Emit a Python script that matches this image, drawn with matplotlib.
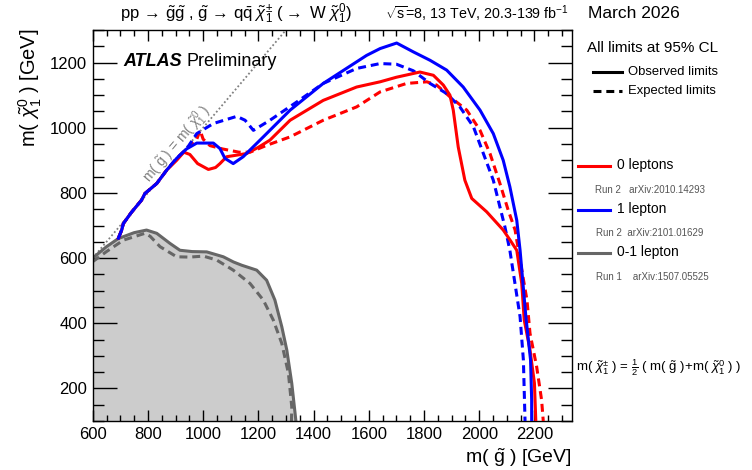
import matplotlib
matplotlib.use("Agg")
import matplotlib.pyplot as plt
from matplotlib.lines import Line2D
from matplotlib.ticker import MultipleLocator

plt.rcParams['font.family'] = ['Liberation Sans', 'DejaVu Sans']
plt.rcParams['mathtext.fontset'] = 'custom'
plt.rcParams['mathtext.rm'] = 'Liberation Sans'
plt.rcParams['mathtext.it'] = 'Liberation Sans:italic'
plt.rcParams['mathtext.bf'] = 'Liberation Sans:bold'
plt.rcParams['mathtext.sf'] = 'Liberation Sans'

# ---------------- data ----------------
diag_x = [600, 1300]
diag_y = [600, 1300]

grey_obs_x = [600, 650, 693, 750, 795, 832, 880, 916, 960, 1013, 1073, 1110, 1140, 1194, 1230, 1260, 1285, 1303, 1321, 1333, 1336]
grey_obs_y = [600, 635, 660, 678, 686, 676, 645, 624, 620, 619, 604, 588, 578, 563, 532, 471, 389, 318, 216, 124, 100]

grey_exp_x = [600, 650, 711, 789, 808, 844, 904, 950, 1001, 1049, 1109, 1170, 1218, 1254, 1285, 1309, 1321, 1320]
grey_exp_y = [589, 620, 655, 676, 667, 635, 604, 603, 606, 594, 563, 522, 471, 410, 338, 246, 144, 100]

red_obs_x = [693, 705, 711, 740, 777, 789, 832, 868, 904, 930, 952, 980, 1019, 1045, 1061, 1085, 1122, 1158, 1200, 1242,
             1315, 1435, 1556, 1641, 1700, 1785, 1834, 1870, 1894, 1906, 1924, 1948, 1973, 2027, 2087, 2112, 2136, 2154,
             2163, 2184, 2200, 2205]
red_obs_y = [661, 686, 706, 740, 778, 798, 829, 870, 900, 925, 918, 890, 872, 878, 890, 911, 916, 921, 940, 962,
             1023, 1084, 1125, 1141, 1155, 1171, 1161, 1131, 1100, 1054, 941, 839, 783, 742, 686, 655, 624, 522,
             410, 318, 216, 100]

red_exp_x = [693, 705, 711, 740, 777, 789, 832, 868, 904, 940, 977, 989, 1000, 1025, 1070, 1130, 1170, 1230, 1315, 1435,
             1556, 1641, 1737, 1810, 1846, 1894, 1955, 2003, 2039, 2075, 2105, 2130, 2148, 2173, 2184, 2208, 2226, 2232]
red_exp_y = [661, 686, 706, 740, 778, 798, 829, 870, 906, 935, 965, 992, 965, 945, 935, 925, 925, 946, 972, 1023,
             1064, 1110, 1136, 1141, 1131, 1095, 1054, 992, 921, 829, 747, 686, 594, 471, 369, 267, 164, 100]

blue_obs_x = [693, 705, 711, 740, 777, 789, 832, 868, 904, 940, 977, 1037, 1061, 1079, 1109, 1145, 1218, 1315, 1435,
              1592, 1641, 1701, 1761, 1822, 1882, 1942, 2003, 2051, 2087, 2111, 2136, 2148, 2169, 2186, 2190, 2190]
blue_obs_y = [661, 686, 706, 740, 778, 798, 829, 870, 906, 935, 953, 953, 936, 906, 890, 911, 972, 1054, 1136,
              1222, 1243, 1260, 1233, 1207, 1177, 1125, 1054, 982, 900, 819, 716, 624, 420, 287, 164, 100]

blue_exp_x = [693, 705, 711, 740, 777, 789, 832, 868, 904, 940, 977, 1037, 1122, 1152, 1182, 1242, 1339, 1435, 1556,
              1641, 1700, 1761, 1822, 1882, 1930, 1979, 2015, 2051, 2075, 2093, 2111, 2148, 2160, 2166]
blue_exp_y = [661, 686, 706, 740, 778, 798, 829, 870, 906, 935, 982, 1013, 1035, 1023, 992, 1023, 1079, 1136, 1182,
              1197, 1195, 1175, 1136, 1105, 1064, 1003, 921, 839, 757, 696, 624, 420, 287, 100]

RED = '#ff0000'
BLUE = '#0000ff'
GREY = '#666666'
FILL = '#cccccc'
DASH = (2.6, 1.6)
LW = 2.2

W, H = 752, 470
fig = plt.figure(figsize=(W / 100, H / 100), dpi=100)
ax = fig.add_axes([92.7 / W, 1 - 421 / H, (571.7 - 92.7) / W, (421 - 30) / H])
ax.set_xlim(600, 2335)
ax.set_ylim(100, 1300)

# grey region (Run 1)
ax.fill(grey_obs_x + [600], grey_obs_y + [100], color=FILL, lw=0, zorder=1)
ax.plot(grey_exp_x, grey_exp_y, color=GREY, lw=LW, dashes=DASH, zorder=2)
ax.plot(grey_obs_x, grey_obs_y, color=GREY, lw=LW, zorder=2)

# diagonal
ax.plot(diag_x, diag_y, color='#808080', lw=1.3, ls=(0, (1, 1.3)), zorder=1.5)
ax.text(905, 950, r"m( $\tilde{\mathrm{g}}$ ) = m( $\tilde{\chi}_1^0$ )", color='#808080', fontsize=10,
        rotation=45, transform_rotates_text=True, rotation_mode='anchor', ha='center', va='center')

# curves
ax.plot(red_exp_x, red_exp_y, color=RED, lw=LW, dashes=DASH, zorder=3)
ax.plot(blue_exp_x, blue_exp_y, color=BLUE, lw=LW, dashes=DASH, zorder=3)
ax.plot(red_obs_x, red_obs_y, color=RED, lw=LW, zorder=4)
ax.plot(blue_obs_x, blue_obs_y, color=BLUE, lw=LW, zorder=5)

# axes styling
for s in ax.spines.values():
    s.set_linewidth(1.0)
ax.xaxis.set_major_locator(MultipleLocator(200))
ax.xaxis.set_minor_locator(MultipleLocator(50))
ax.yaxis.set_major_locator(MultipleLocator(200))
ax.yaxis.set_minor_locator(MultipleLocator(50))
ax.tick_params(which='both', direction='in', top=True, right=True, width=1.0, labelsize=12)
ax.tick_params(axis='x', which='major', length=8, pad=4)
ax.tick_params(axis='x', which='minor', length=4.5)
ax.tick_params(axis='y', which='major', length=17, pad=4)
ax.tick_params(axis='y', which='minor', length=8)

# helper for figure pixel coordinates
def F(px, py):
    return px / W, 1 - py / H

def ftext(px, py, s, **kw):
    fig.text(*F(px, py), s, **kw)

def fline(x0, x1, py, **kw):
    fig.add_artist(Line2D([x0 / W, x1 / W], [1 - py / H, 1 - py / H], transform=fig.transFigure, **kw))

# axis labels
ftext(571.7, 458, r"m( $\tilde{\mathrm{g}}$ ) [GeV]", fontsize=14, ha='right', va='center')
ftext(30, 28, r"m( $\tilde{\chi}_1^0$ ) [GeV]", fontsize=14.5, rotation=90, ha='center', va='top')

# title line
ftext(120, 14, r"pp$\,\rightarrow\,\tilde{\mathrm{g}}\tilde{\mathrm{g}}$ , $\tilde{\mathrm{g}}\,\rightarrow\,\mathrm{q}\bar{\mathrm{q}}\;\tilde{\chi}_1^{\pm}$ ($\rightarrow$ W $\tilde{\chi}_1^0$)",
      fontsize=12, ha='left', va='center')
ftext(385, 14, r"$\sqrt{\mathrm{s}}$=8, 13 TeV, 20.3-139 fb$^{-1}$", fontsize=10.3, ha='left', va='center')

# ATLAS label
ftext(123, 62, "ATLAS", fontsize=13, fontweight='bold', fontstyle='italic', ha='left', va='center')
ftext(187, 62, "Preliminary", fontsize=13, ha='left', va='center')

# legend
ftext(588, 14, "March 2026", fontsize=12.5, ha='left', va='center')
ftext(587, 48, "All limits at 95% CL", fontsize=11, ha='left', va='center')
fline(593, 622, 72, color='black', lw=2.2)
ftext(628, 72, "Observed limits", fontsize=9.4, ha='left', va='center')
fline(593, 622, 91, color='black', lw=2.2, dashes=DASH)
ftext(628, 91, "Expected limits", fontsize=9.4, ha='left', va='center')

fline(578, 610, 166, color=RED, lw=LW)
ftext(617, 165, "0 leptons", fontsize=10, ha='left', va='center')
ftext(595, 190, "Run 2   arXiv:2010.14293", fontsize=7, color='#555555', ha='left', va='center')
fline(578, 610, 210, color=BLUE, lw=LW)
ftext(617, 209, "1 lepton", fontsize=10, ha='left', va='center')
ftext(596, 233, "Run 2  arXiv:2101.01629", fontsize=7, color='#555555', ha='left', va='center')
fline(578, 610, 253, color=GREY, lw=LW)
ftext(617, 252, "0-1 lepton", fontsize=10, ha='left', va='center')
ftext(596, 277, "Run 1    arXiv:1507.05525", fontsize=7, color='#555555', ha='left', va='center')

ftext(576, 368, r"m( $\tilde{\chi}_1^{\pm}$ ) = $\frac{1}{2}$ ( m( $\tilde{\mathrm{g}}$ )+m( $\tilde{\chi}_1^0$ ) )",
      fontsize=9.5, ha='left', va='center')

fig.savefig("out.png", dpi=100)
